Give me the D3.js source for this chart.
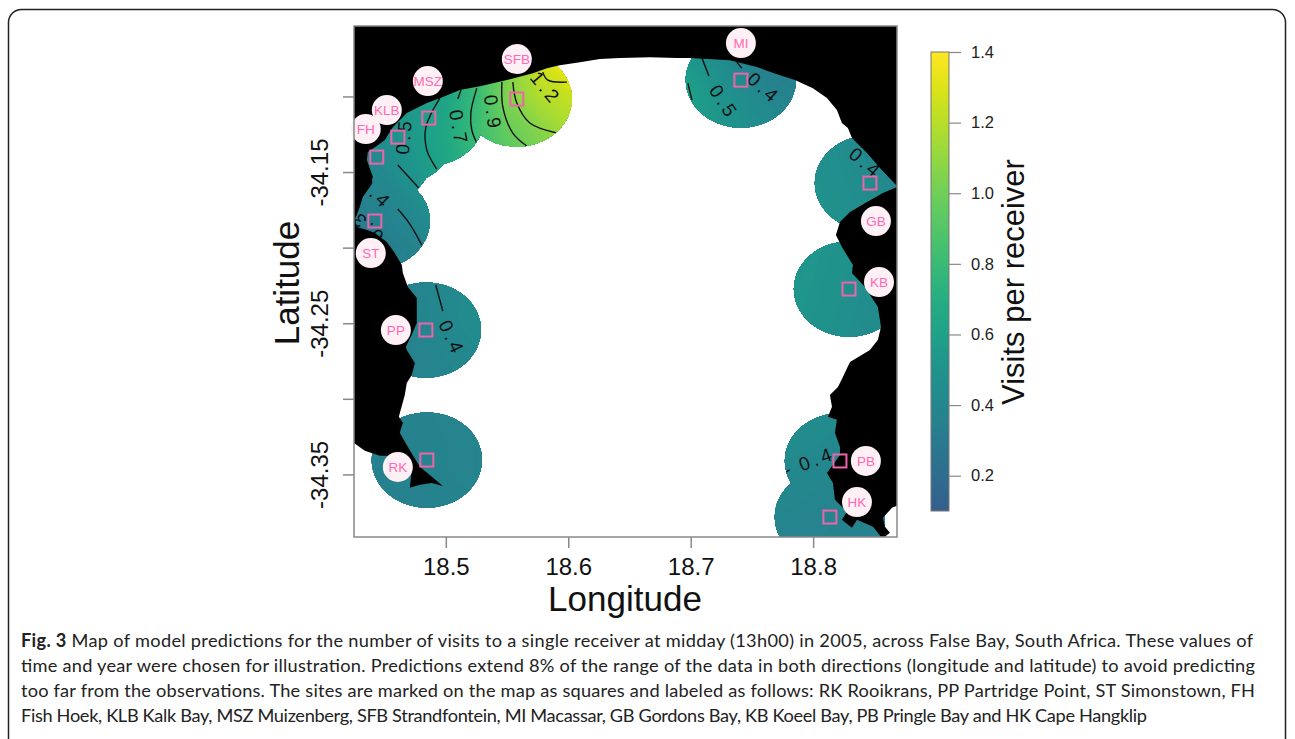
<!DOCTYPE html>
<html>
<head>
<meta charset="utf-8">
<script src="https://cdn.jsdelivr.net/npm/d3@7"></script>
<style>
  body { margin: 0; background: #fff; }
  svg { display: block; }
  text { font-family: "Liberation Sans", Arial, sans-serif; }
  .caption text { font-family: Lato, sans-serif; font-size: 18.2px; fill: #222; }
</style>
</head>
<body>
<div id="chart"></div>
<script>
// sites: code, square position, label bubble position (lon / lat)
const siteCodes = ['RK', 'PP', 'ST', 'FH', 'KLB', 'MSZ', 'SFB', 'MI', 'GB', 'KB', 'PB', 'HK'];
const siteLon = [18.4845, 18.4837, 18.442, 18.4436, 18.4608, 18.4861, 18.558, 18.741, 18.8464, 18.8293, 18.8219, 18.8137];
const siteLat = [-34.3405, -34.2545, -34.1824, -34.1401, -34.1269, -34.1143, -34.1017, -34.0892, -34.1573, -34.2274, -34.3411, -34.3782];
const bubbleLon = [18.4608, 18.4592, 18.4387, 18.4346, 18.4518, 18.4853, 18.558, 18.741, 18.8513, 18.8538, 18.8431, 18.8358];
const bubbleLat = [-34.3451, -34.2545, -34.2036, -34.1216, -34.109, -34.0898, -34.0753, -34.0647, -34.1824, -34.2228, -34.3411, -34.3683];

// predictions are only shown this far from a site (degrees)
const reachLon = 0.045;
const reachLat = 0.0315;

// visits per receiver on a 0.025 degree grid
const fieldLon0 = 18.425;
const fieldLat0 = -34.05;
const fieldStep = 0.025;
const fieldRows = [
  [.50, .55, .62, .72, .88, 1.05, 1.32, 1.48, 1.48, 1.2, .70, .52, .42, .34, .30, .30, .34, .34, .34],
  [.47, .52, .58, .68, .85, 1.02, 1.28, 1.42, 1.42, 1.1, .66, .53, .44, .36, .32, .35, .37, .37, .37],
  [.44, .50, .56, .63, .80, 1.05, 1.18, 1.24, 1.26, 1.0, .68, .60, .50, .44, .38, .40, .39, .39, .39],
  [.42, .46, .56, .66, .82, .96, 1.05, 1.15, 1.18, .95, .66, .58, .52, .47, .44, .49, .44, .40, .39],
  [.40, .43, .52, .63, .78, .92, 1.0, 1.05, 1.05, .85, .62, .55, .50, .48, .48, .48, .46, .43, .41],
  [.33, .38, .43, .50, .60, .70, .80, .80, .75, .70, .60, .54, .50, .50, .50, .49, .47, .45, .43],
  [.30, .33, .38, .42, .46, .50, .55, .58, .58, .56, .53, .51, .50, .52, .53, .52, .49, .46, .44],
  [.34, .36, .38, .42, .44, .46, .47, .49, .50, .50, .50, .50, .50, .52, .53, .51, .48, .45, .43],
  [.36, .37, .39, .42, .45, .47, .46, .47, .48, .48, .48, .48, .48, .50, .52, .50, .47, .44, .42],
  [.36, .37, .38, .40, .42, .43, .43, .44, .45, .45, .45, .45, .46, .47, .48, .47, .45, .42, .41],
  [.36, .37, .38, .39, .40, .41, .42, .43, .43, .44, .44, .44, .45, .46, .46, .46, .44, .42, .41],
  [.35, .36, .37, .38, .39, .40, .41, .41, .41, .42, .43, .44, .45, .47, .45, .44, .42, .41, .40],
  [.35, .36, .37, .38, .39, .39, .39, .39, .39, .40, .41, .42, .43, .44, .42, .41, .40, .39, .38],
  [.34, .35, .36, .37, .37, .37, .37, .37, .38, .38, .39, .40, .40, .41, .40, .39, .38, .37, .37],
  [.33, .34, .35, .36, .36, .36, .36, .36, .36, .36, .37, .38, .38, .39, .38, .38, .37, .36, .36]
];

// visible pieces of the contour lines
const contourLines = [
  [[18.5792, -34.0839], [18.5833, -34.0892], [18.5989, -34.0905]],
  [[18.5547, -34.0905], [18.558, -34.1044], [18.5686, -34.1176], [18.5907, -34.1242]],
  [[18.5458, -34.0905], [18.5466, -34.107], [18.5547, -34.1242], [18.5662, -34.1328]],
  [[18.5253, -34.0945], [18.5204, -34.111], [18.5212, -34.1222], [18.5253, -34.1308]],
  [[18.5123, -34.0958], [18.5098, -34.1017]],
  [[18.4951, -34.1011], [18.4837, -34.1203], [18.4845, -34.1355], [18.4926, -34.148]],
  [[18.4608, -34.1454], [18.4779, -34.1606]],
  [[18.4608, -34.1745], [18.4706, -34.1844], [18.4804, -34.1983]],
  [[18.4918, -34.2247], [18.4975, -34.2419]],
  [[18.7092, -34.0746], [18.7149, -34.0865]],
  [[18.6977, -34.0912], [18.701, -34.1024]],
  [[18.7377, -34.0773], [18.7418, -34.0813]],
  [[18.7778, -34.3483], [18.781, -34.347]]
];
const contourLabelText = ['1.2', '0.9', '0.7', '0.5', '0.4', '0.3', '0.4', '0.4', '0.5', '0.4', '0.4'];
const contourLabelLon = [18.5817, 18.5384, 18.5106, 18.4657, 18.4428, 18.4355, 18.5049, 18.7598, 18.7271, 18.8431, 18.8031];
const contourLabelLat = [-34.0945, -34.111, -34.1209, -34.1262, -34.1639, -34.1864, -34.2597, -34.0945, -34.1037, -34.1441, -34.3397];
const contourLabelAngle = [50, 82, 80, -85, 45, -138, 65, 42, 57, 40, -20];

// land outline, followed round the bay from the south-west
const coast = [
  [18.4248, -34.3291], [18.4338, -34.3344], [18.4461, -34.3377], [18.4583, -34.3377], [18.4722, -34.347],
  [18.4706, -34.3589], [18.4788, -34.3569], [18.4886, -34.3556], [18.4975, -34.3576], [18.4886, -34.3516],
  [18.4788, -34.345], [18.469, -34.3318], [18.4624, -34.3225], [18.4649, -34.3159], [18.4616, -34.3119],
  [18.4665, -34.2974], [18.4681, -34.2895], [18.4722, -34.2842], [18.4747, -34.2763], [18.4681, -34.2677],
  [18.4673, -34.2657], [18.4722, -34.2577], [18.4763, -34.2498], [18.4763, -34.2399], [18.4763, -34.2333],
  [18.469, -34.226], [18.4649, -34.2168], [18.4641, -34.2115], [18.4583, -34.2035], [18.4518, -34.1963],
  [18.442, -34.1903], [18.4355, -34.1883], [18.4273, -34.1864], [18.4257, -34.1817], [18.4297, -34.1731],
  [18.4322, -34.1665], [18.4379, -34.1599], [18.4404, -34.1533], [18.4355, -34.1421], [18.4363, -34.1368],
  [18.4444, -34.1322], [18.4502, -34.1288], [18.4567, -34.1203], [18.4681, -34.111], [18.4845, -34.1044],
  [18.4975, -34.1004], [18.5114, -34.0958], [18.5278, -34.0932], [18.5498, -34.0892], [18.5711, -34.0846],
  [18.5825, -34.0813], [18.5931, -34.0793], [18.6095, -34.0773], [18.6258, -34.0753], [18.6422, -34.0746],
  [18.6667, -34.074], [18.6887, -34.0746], [18.6993, -34.0746], [18.732, -34.076], [18.7541, -34.0806],
  [18.7729, -34.0859], [18.7851, -34.0892], [18.7998, -34.0945], [18.8113, -34.1011], [18.8194, -34.109],
  [18.8235, -34.1176], [18.8284, -34.1209], [18.8317, -34.1275], [18.844, -34.1374], [18.8546, -34.1474],
  [18.8677, -34.1586], [18.8685, -34.1599], [18.857, -34.1639], [18.844, -34.1698], [18.8301, -34.1764],
  [18.8219, -34.1831], [18.8186, -34.1916], [18.8235, -34.1996], [18.8325, -34.2115], [18.8317, -34.2168],
  [18.8423, -34.226], [18.8529, -34.2392], [18.8554, -34.2525], [18.8529, -34.261], [18.8464, -34.2677],
  [18.8301, -34.2756], [18.8243, -34.2855], [18.8203, -34.2921], [18.8137, -34.2974], [18.8154, -34.3053],
  [18.8121, -34.3119], [18.8194, -34.3139], [18.8178, -34.3225], [18.8219, -34.3318], [18.8219, -34.3371],
  [18.8113, -34.349], [18.8162, -34.3556], [18.8178, -34.3668], [18.8276, -34.3747], [18.8235, -34.38],
  [18.8317, -34.3853], [18.8358, -34.38], [18.8489, -34.3847], [18.8554, -34.3913], [18.8587, -34.3913],
  [18.8627, -34.3886], [18.8587, -34.3847], [18.857, -34.3787], [18.8644, -34.3721], [18.8685, -34.3708],
  [18.8685, -34.0534], [18.425, -34.0534]
];

const xTicks = [18.5, 18.6, 18.7, 18.8];
const yTicks = [-34.1, -34.15, -34.2, -34.25, -34.3, -34.35];
const yTickLabels = ['', '-34.15', '', '-34.25', '', '-34.35'];
const legendTicks = [0.2, 0.4, 0.6, 0.8, 1.0, 1.2, 1.4];

const captionLines = [
  ' Map of model predictions for the number of visits to a single receiver at midday (13h00) in 2005, across False Bay, South Africa. These values of',
  'time and year were chosen for illustration. Predictions extend 8% of the range of the data in both directions (longitude and latitude) to avoid predicting',
  'too far from the observations. The sites are marked on the map as squares and labeled as follows: RK Rooikrans, PP Partridge Point, ST Simonstown, FH',
  'Fish Hoek, KLB Kalk Bay, MSZ Muizenberg, SFB Strandfontein, MI Macassar, GB Gordons Bay, KB Koeel Bay, PB Pringle Bay and HK Cape Hangklip'
];
const captionWidths = [1232, 1234, 1234, 1126];

const svg = d3.select('#chart').append('svg').attr('width', 1295).attr('height', 739);

// card outline, runs off the bottom of the page
svg.append('rect')
  .attr('x', 8.5).attr('y', 9.5).attr('width', 1277).attr('height', 800).attr('rx', 13)
  .attr('fill', '#fff').attr('stroke', '#222').attr('stroke-width', 1.5);

const x = d3.scaleLinear().domain([18.425, 18.8685]).range([354, 897]);
const y = d3.scaleLinear().domain([-34.3914, -34.0534]).range([537, 26]);
const legendY = d3.scaleLinear().domain([0.1, 1.4]).range([511, 52]);

// bottom of the bar is already blue, so only the upper part of viridis is used
const color = d3.scaleLinear().domain([0.1, 1.4]).range([0.3, 1]);
const fillFor = v => d3.interpolateViridis(color(v));

const defs = svg.append('defs');

defs.append('clipPath').attr('id', 'plot-clip').append('rect')
  .attr('x', x.range()[0]).attr('y', y.range()[1])
  .attr('width', x.range()[1] - x.range()[0]).attr('height', y.range()[0] - y.range()[1]);

// union of the ellipses round each site
defs.append('clipPath').attr('id', 'reach-clip')
  .selectAll('ellipse').data(siteCodes).join('ellipse')
  .attr('cx', (d, i) => x(siteLon[i]))
  .attr('cy', (d, i) => y(siteLat[i]))
  .attr('rx', (d, i) => x(siteLon[i] + reachLon) - x(siteLon[i]))
  .attr('ry', (d, i) => y(siteLat[i] - reachLat) - y(siteLat[i]));

const plot = svg.append('g').attr('clip-path', 'url(#plot-clip)');
const field = plot.append('g').attr('clip-path', 'url(#reach-clip)');

// filled field: one contour band per 0.01 visits
const nCols = fieldRows[0].length;
const nRows = fieldRows.length;
const thresholds = d3.range(0.2, 1.4, 0.01);
const bands = d3.contours().size([nCols, nRows]).thresholds(thresholds)(fieldRows.flat());
const gridPath = d3.geoPath(d3.geoTransform({
  point(cx, cy) {
    this.stream.point(
      x(fieldLon0 + (cx - 0.5) * fieldStep),
      y(fieldLat0 - (cy - 0.5) * fieldStep)
    );
  }
}));
field.selectAll('path.band').data(bands).join('path')
  .attr('class', 'band')
  .attr('d', gridPath)
  .attr('fill', d => fillFor(d.value))
  .attr('stroke', d => fillFor(d.value))
  .attr('stroke-width', 0.5);

const contourLine = d3.line().x(d => x(d[0])).y(d => y(d[1])).curve(d3.curveCatmullRom);
field.selectAll('path.contour').data(contourLines).join('path')
  .attr('class', 'contour')
  .attr('d', contourLine)
  .attr('fill', 'none')
  .attr('stroke', '#111')
  .attr('stroke-width', 1.4);

field.selectAll('text.contour-label').data(contourLabelText).join('text')
  .attr('class', 'contour-label')
  .attr('transform', (d, i) => `translate(${x(contourLabelLon[i])},${y(contourLabelLat[i])}) rotate(${contourLabelAngle[i]})`)
  .attr('text-anchor', 'middle')
  .attr('dy', '0.35em')
  .style('font-size', '19px')
  .style('letter-spacing', '3.5px')
  .attr('fill', '#111')
  .text(d => d);

// land goes over the field
plot.append('path')
  .attr('d', d3.line().x(d => x(d[0])).y(d => y(d[1]))(coast) + 'Z')
  .attr('fill', '#000');

// site squares and bubbles
svg.append('g').selectAll('rect').data(siteCodes).join('rect')
  .attr('x', (d, i) => x(siteLon[i]) - 6.5)
  .attr('y', (d, i) => y(siteLat[i]) - 6.5)
  .attr('width', 13).attr('height', 13)
  .attr('fill', 'none').attr('stroke', '#ec65aa').attr('stroke-width', 2);

const bubbles = svg.append('g').selectAll('g').data(siteCodes).join('g')
  .attr('transform', (d, i) => `translate(${x(bubbleLon[i])},${y(bubbleLat[i])})`);
bubbles.append('circle').attr('r', 15).attr('fill', '#fff0f5');
bubbles.append('text')
  .attr('text-anchor', 'middle').attr('dy', '0.36em')
  .style('font-size', '13.5px').attr('fill', '#ff69b4')
  .text(d => d);

// frame and axes
svg.append('rect')
  .attr('x', 354).attr('y', 26).attr('width', 543).attr('height', 511)
  .attr('fill', 'none').attr('stroke', '#888').attr('stroke-width', 1.5);

const xAxis = svg.append('g').attr('transform', 'translate(0,537)')
  .call(d3.axisBottom(x).tickValues(xTicks).tickSize(11).tickPadding(10).tickFormat(d3.format('.1f')));
const yAxis = svg.append('g').attr('transform', 'translate(354,0)')
  .call(d3.axisLeft(y).tickValues(yTicks).tickSize(11).tickFormat((d, i) => yTickLabels[i]));
yAxis.selectAll('text')
  .attr('x', null).attr('dy', null)
  .attr('text-anchor', 'middle')
  .attr('transform', 'translate(-26,0) rotate(-90)');

[xAxis, yAxis].forEach(a => {
  a.select('.domain').remove();
  a.selectAll('line').attr('stroke', '#888').attr('stroke-width', 1.5);
  a.selectAll('text').attr('fill', '#111').style('font-size', '24px');
});

svg.append('text')
  .attr('x', 625).attr('y', 611)
  .attr('text-anchor', 'middle').attr('fill', '#111')
  .style('font-size', '35px').text('Longitude');
svg.append('text')
  .attr('transform', 'translate(299,283) rotate(-90)')
  .attr('text-anchor', 'middle').attr('fill', '#111')
  .style('font-size', '35px').text('Latitude');

// colour legend
const gradient = defs.append('linearGradient').attr('id', 'legend-gradient')
  .attr('x1', 0).attr('x2', 0).attr('y1', 1).attr('y2', 0);
gradient.selectAll('stop').data(d3.range(0.1, 1.401, 0.05)).join('stop')
  .attr('offset', d => (d - 0.1) / 1.3)
  .attr('stop-color', fillFor);

svg.append('rect')
  .attr('x', 931).attr('y', legendY(1.4))
  .attr('width', 18).attr('height', legendY(0.1) - legendY(1.4))
  .attr('fill', 'url(#legend-gradient)')
  .attr('stroke', '#777').attr('stroke-width', 1);

const legendAxis = svg.append('g').attr('transform', 'translate(949,0)')
  .call(d3.axisRight(legendY).tickValues(legendTicks).tickSize(12).tickPadding(10).tickFormat(d3.format('.1f')));
legendAxis.select('.domain').remove();
legendAxis.selectAll('line').attr('stroke', '#888').attr('stroke-width', 1.2);
legendAxis.selectAll('text').attr('fill', '#222').style('font-size', '16.5px');

svg.append('text')
  .attr('transform', 'translate(1024,282) rotate(-90)')
  .attr('text-anchor', 'middle').attr('fill', '#111')
  .style('font-size', '31px').text('Visits per receiver');

// caption
const caption = svg.append('g').attr('class', 'caption');
captionLines.forEach((line, i) => {
  const t = caption.append('text')
    .attr('x', 21).attr('y', 647 + i * 25)
    .attr('textLength', captionWidths[i]).attr('lengthAdjust', 'spacing');
  if (i === 0) t.append('tspan').style('font-weight', 700).text('Fig. 3');
  t.append('tspan').text(line);
});
</script>
</body>
</html>
